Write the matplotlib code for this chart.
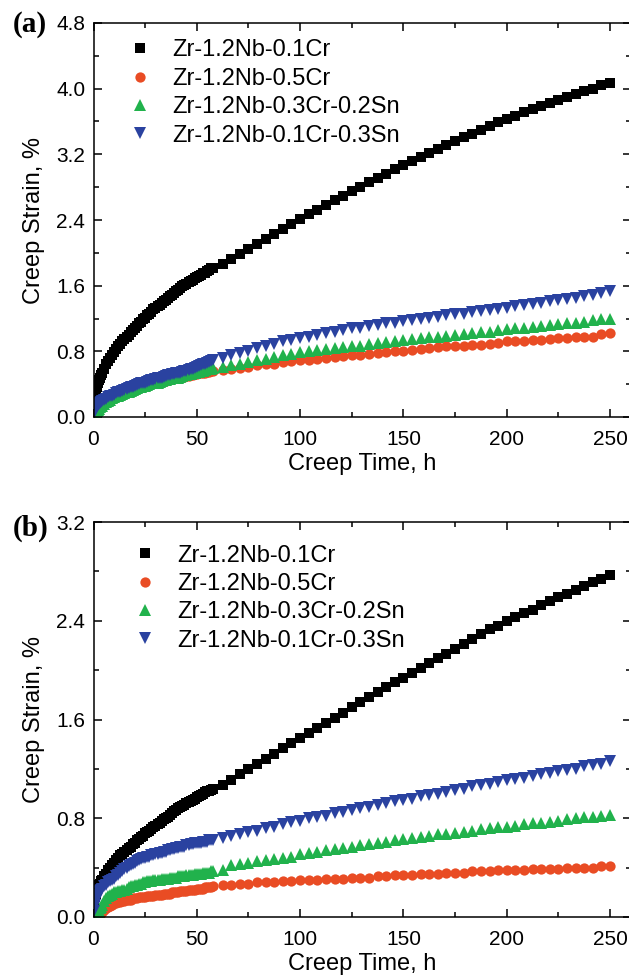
import numpy as np
import matplotlib
matplotlib.use("Agg")
import matplotlib.pyplot as plt
from matplotlib.ticker import MultipleLocator, FormatStrFormatter

plt.rcParams['font.family'] = ['Liberation Sans', 'DejaVu Sans']

nan = np.nan
labels = ["Zr-1.2Nb-0.1Cr", "Zr-1.2Nb-0.5Cr", "Zr-1.2Nb-0.3Cr-0.2Sn", "Zr-1.2Nb-0.1Cr-0.3Sn"]

# dense early-stage sampling times (h)
t_dense = [0, 0.25, 0.5, 0.75, 1, 1.5, 2, 2.5, 3, 3.5, 4,
           5, 6, 7, 8, 9, 10, 11, 12, 13, 14, 15, 16, 17, 18, 19, 20, 21, 22, 23, 24,
           25, 26, 27, 28, 29, 30, 31, 32, 33, 34, 35, 36, 37, 38, 39, 40, 41, 42, 43,
           44, 45, 46, 47, 48, 49, 50, 51, 52, 53, 54, 55, 56, 57, 58]
# sparse later-stage sampling times (h)
t_sparse = [62.5, 66.7, 70.8, 75.0, 79.2, 83.3, 87.5, 91.7, 95.8, 100.0,
            104.2, 108.3, 112.5, 116.7, 120.8, 125.0, 129.2, 133.3, 137.5, 141.7,
            145.8, 150.0, 154.2, 158.3, 162.5, 166.7, 170.8, 175.0, 179.2, 183.3,
            187.5, 191.7, 195.8, 200.0, 204.2, 208.3, 212.5, 216.7, 220.8, 225.0,
            229.2, 233.3, 237.5, 241.7, 245.8, 250.0]

# ---------- panel (a) ----------
a_cr01_dense = [0.15, 0.20, 0.25, 0.28, 0.31, 0.36, 0.41, 0.45, 0.48, 0.51, 0.54,
                0.59, 0.64, 0.68, 0.72, 0.76, 0.79, 0.83, 0.86, 0.89, 0.92, 0.95, 0.98, 1.00, 1.03,
                1.06, 1.09, 1.11, 1.14, 1.16, 1.19, 1.21, 1.24, 1.26, 1.28, 1.31, 1.33, 1.35, 1.37,
                1.39, 1.41, 1.43, 1.45, 1.47, 1.49, 1.51, 1.53, 1.55, 1.57, 1.59, 1.61, 1.62, 1.64,
                1.66, 1.67, 1.69, 1.70, 1.72, 1.73, 1.75, 1.76, 1.78, 1.79, 1.81, 1.82]
a_cr01_sparse = [1.87, 1.93, 1.99, 2.05, 2.11, 2.17, 2.23, 2.29, 2.35, 2.41,
                 2.47, 2.52, 2.58, 2.64, 2.69, 2.75, 2.80, 2.86, 2.91, 2.96,
                 3.02, 3.07, 3.12, 3.17, 3.22, 3.27, 3.31, 3.36, 3.41, 3.45,
                 3.50, 3.54, 3.59, 3.63, 3.67, 3.71, 3.75, 3.79, 3.83, 3.86,
                 3.90, 3.93, 3.97, 4.00, 4.04, 4.07]
a_cr05_dense = [0.02, 0.03, 0.05, 0.06, 0.08, 0.09, 0.11, 0.12, 0.13, 0.14, 0.15,
                0.17, 0.18, 0.20, 0.21, 0.22, 0.23, 0.24, 0.25, 0.26, 0.27, 0.28, 0.29, 0.30, 0.31,
                0.32, 0.33, 0.34, 0.35, 0.36, 0.37, 0.38, 0.39, 0.39, 0.40, 0.41, 0.41, 0.42, 0.43,
                0.43, 0.44, 0.44, 0.45, 0.46, 0.46, 0.47, 0.47, 0.48, 0.48, 0.49, 0.49, 0.50, 0.50,
                0.51, 0.51, 0.52, 0.52, 0.53, 0.53, 0.54, 0.54, 0.55, 0.55, 0.56, 0.56]
a_cr05_sparse = [0.57, 0.58, 0.60, 0.61, 0.63, 0.64, 0.65, 0.67, 0.68, 0.69,
                 0.70, 0.71, 0.72, 0.73, 0.74, 0.75, 0.76, 0.77, 0.78, 0.79,
                 0.80, 0.81, 0.82, 0.83, 0.84, 0.85, 0.86, 0.86, 0.87, 0.88,
                 0.88, 0.89, 0.90, 0.92, 0.93, 0.93, 0.94, 0.94, 0.95, 0.96,
                 0.96, 0.97, 0.98, 0.98, 1.01, 1.02]
a_sn02_dense = [nan, nan, 0.02, 0.03, 0.05, 0.07, 0.09, 0.10, 0.12, 0.13, 0.14,
                0.16, 0.18, 0.20, 0.21, 0.23, 0.24, 0.25, 0.26, 0.27, 0.28, 0.29, 0.30, 0.31, 0.32,
                0.33, 0.34, 0.35, 0.36, 0.37, 0.38, 0.38, 0.39, 0.40, 0.41, 0.41, 0.42, 0.42, 0.43,
                0.44, 0.45, 0.45, 0.46, 0.46, 0.47, 0.47, 0.48, 0.48, 0.49, 0.50, 0.51, 0.51, 0.52,
                0.52, 0.53, 0.54, 0.55, 0.55, 0.56, 0.56, 0.57, 0.58, 0.59, 0.59, 0.60]
a_sn02_sparse = [0.61, 0.63, 0.65, 0.67, 0.69, 0.71, 0.73, 0.75, 0.77, 0.79,
                 0.80, 0.82, 0.83, 0.84, 0.85, 0.86, 0.87, 0.89, 0.90, 0.91,
                 0.92, 0.94, 0.95, 0.96, 0.97, 0.98, 0.99, 1.00, 1.01, 1.02,
                 1.03, 1.04, 1.06, 1.07, 1.08, 1.09, 1.10, 1.11, 1.12, 1.13,
                 1.14, 1.15, 1.16, 1.18, 1.19, 1.20]
a_sn03_dense = [0.05, 0.07, 0.09, 0.11, 0.12, 0.14, 0.15, 0.16, 0.17, 0.18, 0.19,
                0.21, 0.22, 0.24, 0.25, 0.26, 0.27, 0.29, 0.30, 0.31, 0.32, 0.33, 0.34, 0.35, 0.36,
                0.37, 0.38, 0.39, 0.40, 0.41, 0.42, 0.42, 0.43, 0.44, 0.45, 0.45, 0.46, 0.47, 0.48,
                0.48, 0.49, 0.50, 0.51, 0.51, 0.52, 0.52, 0.53, 0.53, 0.54, 0.55, 0.56, 0.56, 0.57,
                0.58, 0.59, 0.60, 0.61, 0.62, 0.63, 0.64, 0.65, 0.66, 0.67, 0.68, 0.69]
a_sn03_sparse = [0.72, 0.75, 0.78, 0.81, 0.84, 0.87, 0.89, 0.92, 0.94, 0.96,
                 0.98, 1.00, 1.02, 1.04, 1.06, 1.08, 1.09, 1.11, 1.12, 1.14,
                 1.15, 1.17, 1.18, 1.20, 1.21, 1.22, 1.24, 1.25, 1.26, 1.28,
                 1.29, 1.30, 1.32, 1.33, 1.35, 1.36, 1.38, 1.39, 1.41, 1.42,
                 1.44, 1.45, 1.47, 1.49, 1.51, 1.53]

# ---------- panel (b) ----------
b_cr01_dense = [0.12, 0.14, 0.16, 0.18, 0.19, 0.22, 0.24, 0.26, 0.27, 0.29, 0.30,
                0.33, 0.35, 0.38, 0.40, 0.42, 0.44, 0.46, 0.48, 0.50, 0.51, 0.53, 0.54, 0.56, 0.57,
                0.59, 0.60, 0.62, 0.63, 0.65, 0.66, 0.68, 0.69, 0.70, 0.71, 0.73, 0.74, 0.75, 0.76,
                0.78, 0.79, 0.80, 0.81, 0.83, 0.84, 0.86, 0.87, 0.88, 0.89, 0.90, 0.91, 0.92, 0.93,
                0.94, 0.95, 0.96, 0.97, 0.98, 0.99, 1.00, 1.01, 1.02, 1.02, 1.03, 1.04]
b_cr01_sparse = [1.07, 1.11, 1.16, 1.20, 1.24, 1.28, 1.32, 1.37, 1.41, 1.45,
                 1.49, 1.53, 1.57, 1.61, 1.65, 1.70, 1.74, 1.78, 1.82, 1.86,
                 1.90, 1.94, 1.98, 2.02, 2.06, 2.10, 2.13, 2.17, 2.21, 2.25,
                 2.29, 2.33, 2.36, 2.40, 2.43, 2.46, 2.49, 2.53, 2.56, 2.59,
                 2.62, 2.65, 2.68, 2.71, 2.74, 2.77]
b_cr05_dense = [nan, nan, nan, nan, nan, nan, 0.00, 0.01, 0.02, 0.03, 0.04,
                0.06, 0.07, 0.08, 0.09, 0.10, 0.11, 0.11, 0.12, 0.12, 0.13, 0.13, 0.14, 0.14, 0.14,
                0.15, 0.15, 0.15, 0.16, 0.16, 0.16, 0.16, 0.17, 0.17, 0.17, 0.17, 0.18, 0.18, 0.18,
                0.18, 0.19, 0.19, 0.19, 0.19, 0.20, 0.20, 0.20, 0.20, 0.21, 0.21, 0.21, 0.21, 0.22,
                0.22, 0.22, 0.22, 0.23, 0.23, 0.23, 0.23, 0.24, 0.24, 0.24, 0.24, 0.25]
b_cr05_sparse = [0.26, 0.26, 0.27, 0.27, 0.28, 0.28, 0.28, 0.29, 0.29, 0.30,
                 0.30, 0.30, 0.31, 0.31, 0.31, 0.32, 0.32, 0.32, 0.33, 0.33,
                 0.34, 0.34, 0.34, 0.35, 0.35, 0.35, 0.36, 0.36, 0.36, 0.37,
                 0.37, 0.37, 0.38, 0.38, 0.38, 0.38, 0.39, 0.39, 0.39, 0.39,
                 0.40, 0.40, 0.40, 0.40, 0.41, 0.41]
b_sn02_dense = [nan, nan, nan, nan, 0.00, 0.01, 0.03, 0.05, 0.07, 0.08, 0.10,
                0.13, 0.15, 0.17, 0.18, 0.19, 0.20, 0.20, 0.21, 0.21, 0.22, 0.22, 0.23, 0.24, 0.25,
                0.25, 0.26, 0.26, 0.27, 0.27, 0.28, 0.28, 0.29, 0.29, 0.29, 0.30, 0.30, 0.30, 0.30,
                0.31, 0.31, 0.31, 0.31, 0.32, 0.32, 0.32, 0.32, 0.33, 0.33, 0.33, 0.33, 0.34, 0.34,
                0.34, 0.34, 0.35, 0.35, 0.35, 0.35, 0.36, 0.36, 0.36, 0.36, 0.37, 0.37]
b_sn02_sparse = [0.38, 0.42, 0.43, 0.44, 0.45, 0.46, 0.47, 0.48, 0.49, 0.51,
                 0.52, 0.53, 0.54, 0.55, 0.56, 0.57, 0.58, 0.59, 0.60, 0.61,
                 0.62, 0.63, 0.64, 0.65, 0.66, 0.67, 0.67, 0.68, 0.69, 0.70,
                 0.71, 0.72, 0.73, 0.73, 0.74, 0.75, 0.76, 0.76, 0.77, 0.78,
                 0.79, 0.80, 0.81, 0.81, 0.82, 0.83]
b_sn03_dense = [0.05, 0.08, 0.10, 0.12, 0.13, 0.16, 0.18, 0.20, 0.21, 0.22, 0.23,
                0.25, 0.26, 0.28, 0.29, 0.30, 0.31, 0.33, 0.34, 0.36, 0.37, 0.39, 0.40, 0.41, 0.42,
                0.43, 0.44, 0.45, 0.46, 0.47, 0.48, 0.48, 0.49, 0.49, 0.50, 0.50, 0.51, 0.51, 0.52,
                0.52, 0.53, 0.53, 0.54, 0.54, 0.55, 0.55, 0.56, 0.56, 0.57, 0.57, 0.57, 0.58, 0.58,
                0.59, 0.59, 0.60, 0.60, 0.60, 0.60, 0.61, 0.61, 0.61, 0.62, 0.62, 0.62]
b_sn03_sparse = [0.64, 0.66, 0.67, 0.69, 0.70, 0.72, 0.73, 0.75, 0.77, 0.78,
                 0.80, 0.81, 0.82, 0.84, 0.85, 0.87, 0.88, 0.89, 0.91, 0.92,
                 0.94, 0.95, 0.96, 0.98, 0.99, 1.00, 1.01, 1.03, 1.04, 1.06,
                 1.07, 1.08, 1.09, 1.11, 1.12, 1.13, 1.14, 1.16, 1.17, 1.18,
                 1.19, 1.20, 1.22, 1.23, 1.24, 1.26]

colors = ["#000000", "#E94C24", "#21B24C", "#2A42A0"]
markers = ["s", "o", "^", "v"]
msizes = [6.8, 7.4, 8.4, 8.4]

panel_a = [(a_cr01_dense, a_cr01_sparse), (a_cr05_dense, a_cr05_sparse),
           (a_sn02_dense, a_sn02_sparse), (a_sn03_dense, a_sn03_sparse)]
panel_b = [(b_cr01_dense, b_cr01_sparse), (b_cr05_dense, b_cr05_sparse),
           (b_sn02_dense, b_sn02_sparse), (b_sn03_dense, b_sn03_sparse)]

for d, s in panel_a + panel_b:
    assert len(d) == len(t_dense), (len(d), len(t_dense))
    assert len(s) == len(t_sparse), (len(s), len(t_sparse))

W, H = 629, 975
fig = plt.figure(figsize=(W / 100, H / 100), dpi=100)

def px_axes(left, top, right, bottom):
    return fig.add_axes([left / W, 1 - bottom / H, (right - left) / W, (bottom - top) / H])

ax_a = px_axes(93.5, 23, 630.7, 417)
ax_b = px_axes(93.5, 522, 630.7, 917)

def draw(ax, data, ymax, ystep, tag, tag_y, leg_anchor):
    for (dense, sparse), c, m, ms, lab in zip(data, colors, markers, msizes, labels):
        t = list(t_dense) + list(t_sparse)
        v = list(dense) + list(sparse)
        ax.plot(t, v, linestyle="none", marker=m, markersize=ms, color=c,
                markeredgewidth=0, label=lab, clip_on=True)
    ax.set_xlim(0, 260)
    ax.set_ylim(0, ymax)
    ax.xaxis.set_major_locator(MultipleLocator(50))
    ax.xaxis.set_minor_locator(MultipleLocator(25))
    ax.yaxis.set_major_locator(MultipleLocator(ystep))
    ax.yaxis.set_minor_locator(MultipleLocator(ystep / 2))
    ax.yaxis.set_major_formatter(FormatStrFormatter("%.1f"))
    ax.tick_params(which="both", direction="in", top=True, right=True,
                   labelsize=15, width=1.1, colors="#000000")
    ax.tick_params(which="major", length=6, pad=6)
    ax.tick_params(axis="x", which="major", pad=9.5)
    ax.tick_params(which="minor", length=3.5)
    for s in ax.spines.values():
        s.set_linewidth(1.1)
    ax.set_xlabel("Creep Time, h", fontsize=17, labelpad=3)
    ax.set_ylabel("Creep Strain, %", fontsize=17, labelpad=8)
    ax.text(-0.151, tag_y, tag, transform=ax.transAxes, fontsize=21,
            fontweight="bold", family="Liberation Serif", ha="left", va="center")
    leg = ax.legend(loc="upper left", bbox_to_anchor=leg_anchor, frameon=False,
                    fontsize=17, handletextpad=0.85, labelspacing=0.27,
                    handlelength=1.0, borderaxespad=0, borderpad=0)
    return leg

draw(ax_a, panel_a, 4.8, 0.8, "(a)", 0.995, (0.0646, 0.9584))
draw(ax_b, panel_b, 3.2, 0.8, "(b)", 0.985, (0.0739, 0.943))

fig.savefig("out.png", dpi=100)
